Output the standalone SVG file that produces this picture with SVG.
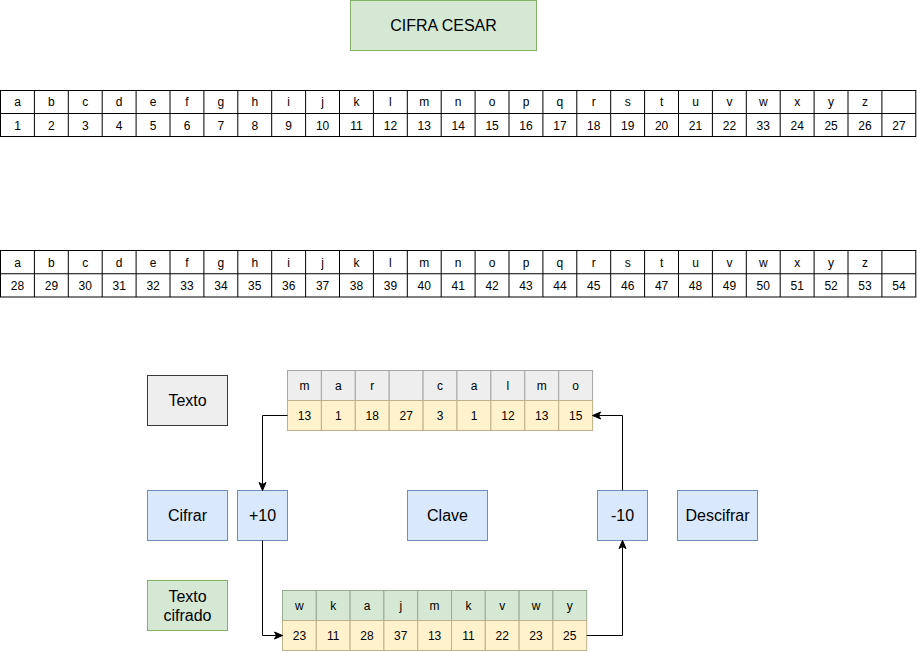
<svg xmlns="http://www.w3.org/2000/svg" width="917" height="651" viewBox="0 0 917 651">
<style>
text{font-family:"Liberation Sans",Arial,sans-serif;fill:#000;text-anchor:middle}
.t12{font-size:12px}
.t16{font-size:16px}
.grid{fill:none;stroke:#000;stroke-width:1}
.blue{fill:#dae8fc;stroke:#6c8ebf;stroke-width:1}
.green{fill:#d5e8d4;stroke:#82b366;stroke-width:1}
.grey{fill:#eeeeee;stroke:#36393d;stroke-width:1}
.hgrey{fill:#eeeeee;stroke:#a6a6a6;stroke-width:1}
.hgreen{fill:#d5e8d4;stroke:#9aab94;stroke-width:1}
.yel{fill:#fff2cc;stroke:#bfb08a;stroke-width:1}
.conn{fill:none;stroke:#000;stroke-width:1;marker-end:url(#arr)}
</style>
<defs>
<marker id="arr" markerUnits="userSpaceOnUse" markerWidth="10" markerHeight="10" refX="9" refY="5" orient="auto">
<path d="M1,1.5 L9,5 L1,8.5 L3,5 z" fill="#000" stroke="#000" stroke-width="1"/>
</marker>
</defs>

<g id="title">
<rect x="350.5" y="0.5" width="186" height="50" class="green"/>
<text x="443.5" y="31" class="t16">CIFRA CESAR</text>
</g>

<g id="alphabet1">
<rect x="0.5" y="90.5" width="915.3" height="46" class="grid"/>
<path class="grid" d="M0.5 113.5H915.8 M34.4 90.5V136.5 M68.3 90.5V136.5 M102.2 90.5V136.5 M136.1 90.5V136.5 M170 90.5V136.5 M203.9 90.5V136.5 M237.8 90.5V136.5 M271.7 90.5V136.5 M305.6 90.5V136.5 M339.5 90.5V136.5 M373.4 90.5V136.5 M407.3 90.5V136.5 M441.2 90.5V136.5 M475.1 90.5V136.5 M509 90.5V136.5 M542.9 90.5V136.5 M576.8 90.5V136.5 M610.7 90.5V136.5 M644.6 90.5V136.5 M678.5 90.5V136.5 M712.4 90.5V136.5 M746.3 90.5V136.5 M780.2 90.5V136.5 M814.1 90.5V136.5 M848 90.5V136.5 M881.9 90.5V136.5"/>
<g class="t12">
<text x="17.5" y="106">a</text><text x="51.4" y="106">b</text><text x="85.3" y="106">c</text><text x="119.2" y="106">d</text><text x="153.1" y="106">e</text><text x="187" y="106">f</text><text x="220.9" y="106">g</text><text x="254.8" y="106">h</text><text x="288.7" y="106">i</text><text x="322.6" y="106">j</text><text x="356.5" y="106">k</text><text x="390.4" y="106">l</text><text x="424.3" y="106">m</text><text x="458.2" y="106">n</text><text x="492.1" y="106">o</text><text x="526" y="106">p</text><text x="559.9" y="106">q</text><text x="593.8" y="106">r</text><text x="627.7" y="106">s</text><text x="661.6" y="106">t</text><text x="695.5" y="106">u</text><text x="729.4" y="106">v</text><text x="763.3" y="106">w</text><text x="797.2" y="106">x</text><text x="831.1" y="106">y</text><text x="865" y="106">z</text>
<text x="17.5" y="129.5">1</text><text x="51.4" y="129.5">2</text><text x="85.3" y="129.5">3</text><text x="119.2" y="129.5">4</text><text x="153.1" y="129.5">5</text><text x="187" y="129.5">6</text><text x="220.9" y="129.5">7</text><text x="254.8" y="129.5">8</text><text x="288.7" y="129.5">9</text><text x="322.6" y="129.5">10</text><text x="356.5" y="129.5">11</text><text x="390.4" y="129.5">12</text><text x="424.3" y="129.5">13</text><text x="458.2" y="129.5">14</text><text x="492.1" y="129.5">15</text><text x="526" y="129.5">16</text><text x="559.9" y="129.5">17</text><text x="593.8" y="129.5">18</text><text x="627.7" y="129.5">19</text><text x="661.6" y="129.5">20</text><text x="695.5" y="129.5">21</text><text x="729.4" y="129.5">22</text><text x="763.3" y="129.5">33</text><text x="797.2" y="129.5">24</text><text x="831.1" y="129.5">25</text><text x="865" y="129.5">26</text><text x="898.9" y="129.5">27</text>
</g>
</g>

<g id="alphabet2">
<rect x="0.5" y="250.5" width="915.3" height="46.5" class="grid"/>
<path class="grid" d="M0.5 273.75H915.8 M34.4 250.5V297 M68.3 250.5V297 M102.2 250.5V297 M136.1 250.5V297 M170 250.5V297 M203.9 250.5V297 M237.8 250.5V297 M271.7 250.5V297 M305.6 250.5V297 M339.5 250.5V297 M373.4 250.5V297 M407.3 250.5V297 M441.2 250.5V297 M475.1 250.5V297 M509 250.5V297 M542.9 250.5V297 M576.8 250.5V297 M610.7 250.5V297 M644.6 250.5V297 M678.5 250.5V297 M712.4 250.5V297 M746.3 250.5V297 M780.2 250.5V297 M814.1 250.5V297 M848 250.5V297 M881.9 250.5V297"/>
<g class="t12">
<text x="17.5" y="266.5">a</text><text x="51.4" y="266.5">b</text><text x="85.3" y="266.5">c</text><text x="119.2" y="266.5">d</text><text x="153.1" y="266.5">e</text><text x="187" y="266.5">f</text><text x="220.9" y="266.5">g</text><text x="254.8" y="266.5">h</text><text x="288.7" y="266.5">i</text><text x="322.6" y="266.5">j</text><text x="356.5" y="266.5">k</text><text x="390.4" y="266.5">l</text><text x="424.3" y="266.5">m</text><text x="458.2" y="266.5">n</text><text x="492.1" y="266.5">o</text><text x="526" y="266.5">p</text><text x="559.9" y="266.5">q</text><text x="593.8" y="266.5">r</text><text x="627.7" y="266.5">s</text><text x="661.6" y="266.5">t</text><text x="695.5" y="266.5">u</text><text x="729.4" y="266.5">v</text><text x="763.3" y="266.5">w</text><text x="797.2" y="266.5">x</text><text x="831.1" y="266.5">y</text><text x="865" y="266.5">z</text>
<text x="17.5" y="290">28</text><text x="51.4" y="290">29</text><text x="85.3" y="290">30</text><text x="119.2" y="290">31</text><text x="153.1" y="290">32</text><text x="187" y="290">33</text><text x="220.9" y="290">34</text><text x="254.8" y="290">35</text><text x="288.7" y="290">36</text><text x="322.6" y="290">37</text><text x="356.5" y="290">38</text><text x="390.4" y="290">39</text><text x="424.3" y="290">40</text><text x="458.2" y="290">41</text><text x="492.1" y="290">42</text><text x="526" y="290">43</text><text x="559.9" y="290">44</text><text x="593.8" y="290">45</text><text x="627.7" y="290">46</text><text x="661.6" y="290">47</text><text x="695.5" y="290">48</text><text x="729.4" y="290">49</text><text x="763.3" y="290">50</text><text x="797.2" y="290">51</text><text x="831.1" y="290">52</text><text x="865" y="290">53</text><text x="898.9" y="290">54</text>
</g>
</g>

<g id="texto">
<rect x="147.5" y="375.5" width="80" height="50" class="grey"/>
<text x="187.5" y="406" class="t16">Texto</text>
</g>

<g id="plain-table">
<g class="hgrey">
<rect x="287.5" y="370.5" width="33.9" height="30"/><rect x="321.4" y="370.5" width="33.9" height="30"/><rect x="355.3" y="370.5" width="33.9" height="30"/><rect x="389.2" y="370.5" width="33.9" height="30"/><rect x="423.1" y="370.5" width="33.9" height="30"/><rect x="457" y="370.5" width="33.9" height="30"/><rect x="490.9" y="370.5" width="33.9" height="30"/><rect x="524.8" y="370.5" width="33.9" height="30"/><rect x="558.7" y="370.5" width="33.9" height="30"/>
</g>
<g class="yel">
<rect x="287.5" y="400.5" width="33.9" height="30"/><rect x="321.4" y="400.5" width="33.9" height="30"/><rect x="355.3" y="400.5" width="33.9" height="30"/><rect x="389.2" y="400.5" width="33.9" height="30"/><rect x="423.1" y="400.5" width="33.9" height="30"/><rect x="457" y="400.5" width="33.9" height="30"/><rect x="490.9" y="400.5" width="33.9" height="30"/><rect x="524.8" y="400.5" width="33.9" height="30"/><rect x="558.7" y="400.5" width="33.9" height="30"/>
</g>
<g class="t12">
<text x="304.5" y="390">m</text><text x="338.4" y="390">a</text><text x="372.3" y="390">r</text><text x="440.1" y="390">c</text><text x="474" y="390">a</text><text x="507.9" y="390">l</text><text x="541.8" y="390">m</text><text x="575.7" y="390">o</text>
<text x="304.5" y="420">13</text><text x="338.4" y="420">1</text><text x="372.3" y="420">18</text><text x="406.2" y="420">27</text><text x="440.1" y="420">3</text><text x="474" y="420">1</text><text x="507.9" y="420">12</text><text x="541.8" y="420">13</text><text x="575.7" y="420">15</text>
</g>
</g>

<g id="cifrar">
<rect x="147.5" y="490.5" width="80" height="50" class="blue"/>
<text x="187.5" y="521" class="t16">Cifrar</text>
</g>
<g id="plus10">
<rect x="237.5" y="490.5" width="50" height="50" class="blue"/>
<text x="262.5" y="521" class="t16">+10</text>
</g>
<g id="clave">
<rect x="407.5" y="490.5" width="80" height="50" class="blue"/>
<text x="447.5" y="521" class="t16">Clave</text>
</g>
<g id="minus10">
<rect x="597.5" y="490.5" width="50" height="50" class="blue"/>
<text x="622.5" y="521" class="t16">-10</text>
</g>
<g id="descifrar">
<rect x="677.5" y="490.5" width="80" height="50" class="blue"/>
<text x="717.5" y="521" class="t16">Descifrar</text>
</g>
<g id="texto-cifrado">
<rect x="147.5" y="580.5" width="80" height="50" class="green"/>
<text x="187.5" y="601.5" class="t16">Texto</text>
<text x="187.5" y="620.5" class="t16">cifrado</text>
</g>

<g id="cipher-table">
<g class="hgreen">
<rect x="282.5" y="590.5" width="33.8" height="30"/><rect x="316.3" y="590.5" width="33.8" height="30"/><rect x="350.1" y="590.5" width="33.8" height="30"/><rect x="383.9" y="590.5" width="33.8" height="30"/><rect x="417.7" y="590.5" width="33.8" height="30"/><rect x="451.5" y="590.5" width="33.8" height="30"/><rect x="485.3" y="590.5" width="33.8" height="30"/><rect x="519.1" y="590.5" width="33.8" height="30"/><rect x="552.9" y="590.5" width="33.8" height="30"/>
</g>
<g class="yel">
<rect x="282.5" y="620.5" width="33.8" height="30"/><rect x="316.3" y="620.5" width="33.8" height="30"/><rect x="350.1" y="620.5" width="33.8" height="30"/><rect x="383.9" y="620.5" width="33.8" height="30"/><rect x="417.7" y="620.5" width="33.8" height="30"/><rect x="451.5" y="620.5" width="33.8" height="30"/><rect x="485.3" y="620.5" width="33.8" height="30"/><rect x="519.1" y="620.5" width="33.8" height="30"/><rect x="552.9" y="620.5" width="33.8" height="30"/>
</g>
<g class="t12">
<text x="299.4" y="610">w</text><text x="333.2" y="610">k</text><text x="367" y="610">a</text><text x="400.8" y="610">j</text><text x="434.6" y="610">m</text><text x="468.4" y="610">k</text><text x="502.2" y="610">v</text><text x="536" y="610">w</text><text x="569.8" y="610">y</text>
<text x="299.4" y="640">23</text><text x="333.2" y="640">11</text><text x="367" y="640">28</text><text x="400.8" y="640">37</text><text x="434.6" y="640">13</text><text x="468.4" y="640">11</text><text x="502.2" y="640">22</text><text x="536" y="640">23</text><text x="569.8" y="640">25</text>
</g>
</g>

<g id="connectors">
<path class="conn" d="M287.5 415.5H262.5V490.5"/>
<path class="conn" d="M262.5 540.5V635.5H282.5"/>
<path class="conn" d="M586.7 635.5H622.5V540.5"/>
<path class="conn" d="M622.5 490.5V415.5H592.6"/>
</g>
</svg>
